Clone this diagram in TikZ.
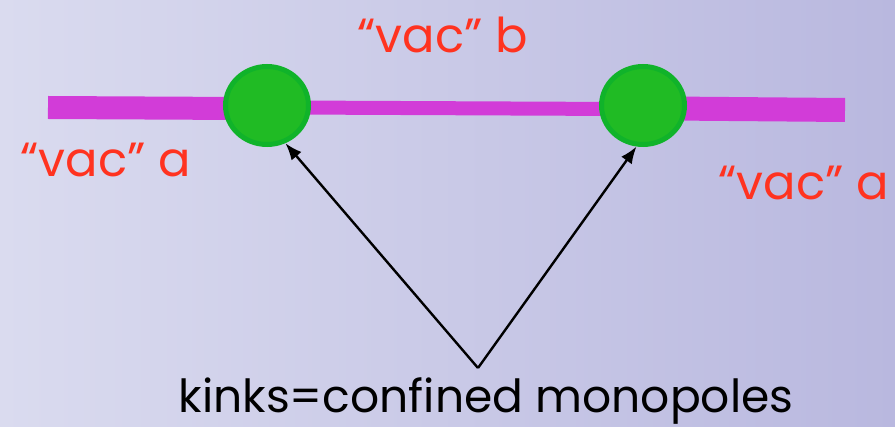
\documentclass[tikz,border=0pt]{standalone}
\usepackage{fontspec}
\setmainfont{Poppins}
\usepackage{tikz}
\usetikzlibrary{arrows.meta,positioning,shapes.geometric}
\definecolor{kbgleft}{HTML}{DADBEF}
\definecolor{kbgright}{HTML}{B9B8DF}
\definecolor{kstring}{HTML}{D23CD8}
\definecolor{kfill}{HTML}{20BB24}
\definecolor{kedge}{HTML}{10B32A}
\definecolor{kred}{HTML}{FF3320}

\begin{document}
\begin{tikzpicture}[
 x=0.5pt,y=-0.5pt,>=Latex,
 kink/.style={ellipse,draw=kedge,fill=kfill,line width=2.5pt,
   minimum width=41.5pt,minimum height=39pt,inner sep=0pt},
 vac/.style={text=kred,anchor=base west,inner sep=0pt,
   font=\fontsize{24}{28}\selectfont},
 flux/.style={kstring,line cap=butt},
 pointer/.style={-{Latex[length=8.5pt,width=6.5pt]},line width=1.2pt,black}
]
\useasboundingbox (0,0) rectangle (895,427);
\fill[left color=kbgleft,right color=kbgright] (0,0) rectangle (895,427);
% string pieces
\draw[flux,line width=11.5pt] (48,107.5) -- (240,108.5);
\draw[flux,line width=7pt] (290,107.5) -- (620,109);
\draw[flux,line width=12pt] (670,108.5) -- (845,110);
% kinks
\node[kink] (kinkL) at (267,105.5) {};
\node[kink] (kinkR) at (643,105.5) {};
% vacua
\node[vac] (vacL) at (20,177) {“vac” a};
\node[vac] (vacM) at (357,53) {“vac” b};
\node[vac] (vacR) at (718,200) {“vac” a};
\node[anchor=base,inner sep=0pt,font=\fontsize{22.8}{26}\selectfont] (caption) at (486,413)
 {kinks=confined monopoles};
\coordinate (meet) at (478,368);
\draw[pointer] (meet) -- (kinkL.296);
\draw[pointer] (meet) -- (kinkR.261);
\end{tikzpicture}
\end{document}
